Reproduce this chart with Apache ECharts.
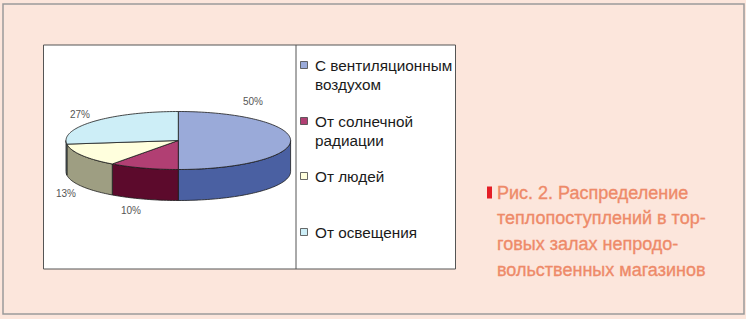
<!DOCTYPE html>
<html><head><meta charset="utf-8">
<script src="https://cdn.jsdelivr.net/npm/echarts@6/dist/echarts.min.js"></script>
<style>html,body{margin:0;padding:0;background:#fce6dc;}#c{width:746px;height:319px;}</style>
</head><body><div id="c"></div>
<script>
// ---- data ----
const categories = ['С вентиляционным воздухом', 'От солнечной радиации', 'От людей', 'От освещения'];
const values = [50, 10, 13, 27];
const valueLabels = ['50%', '10%', '13%', '27%'];
const legendLines = [['С вентиляционным', 'воздухом'], ['От солнечной', 'радиации'], ['От людей'], ['От освещения']];
const captionLines = ['Рис. 2. Распределение', 'теплопоступлений в тор-', 'говых залах непродо-', 'вольственных магазинов'];

// ---- style / layout ----
const topColors = ['#9aaad9', '#b13f73', '#ffffdd', '#cdeef7'];
const sideColors = ['#4a60a2', '#5c0a2c', '#9e9e82', '#7fa0aa'];
const pie = { cx: 178.3, cy: 140.5, rx: 112.3, ry: 29, depth: 31 };
const labelAt = [[253, 101], [131, 210], [66, 193], [80, 114]];
const legendY = [65, 121, 176, 232];

const total = values.reduce((a, b) => a + b, 0);
function startAngle(i) { let s = 0; for (let k = 0; k < i; k++) s += values[k]; return s / total * 360; }
function pt(a, dy) {
  const r = a * Math.PI / 180;
  return [pie.cx + pie.rx * Math.sin(r), pie.cy - pie.ry * Math.cos(r) + (dy || 0)];
}
function arc(a0, a1, dy) {
  const pts = []; const n = Math.max(2, Math.ceil((a1 - a0) / 1.5));
  for (let j = 0; j <= n; j++) pts.push(pt(a0 + (a1 - a0) * j / n, dy));
  return pts;
}

function renderSide(params, api) {
  const i = params.dataIndex;
  const a0 = startAngle(i), a1 = a0 + api.value(1) / total * 360;
  const s = Math.max(a0, 90), e = Math.min(a1, 270);
  if (e <= s) return null;
  const pts = arc(s, e, 0).concat(arc(s, e, pie.depth).reverse());
  return { type: 'polygon', shape: { points: pts }, style: { fill: sideColors[i], stroke: '#1a1a1a', lineWidth: 0.8 } };
}
function renderTop(params, api) {
  const i = params.dataIndex;
  const a0 = startAngle(i), a1 = a0 + api.value(1) / total * 360;
  const pts = [[pie.cx, pie.cy]].concat(arc(a0, a1, 0));
  return {
    type: 'group', children: [
      { type: 'polygon', shape: { points: pts }, style: { fill: topColors[i], stroke: '#1a1a1a', lineWidth: 0.8 } },
      { type: 'text', x: labelAt[i][0], y: labelAt[i][1], style: { text: valueLabels[i], fill: '#555', font: '10px "Liberation Sans", Arial, sans-serif', align: 'center', verticalAlign: 'middle' } }
    ]
  };
}

const seriesData = values.map((v, i) => ({ name: categories[i], value: [i, v] }));

const graphics = [
  { type: 'rect', shape: { x: 3, y: 4, width: 741, height: 310 }, style: { fill: '#fce6dc', stroke: '#9a9a9a', lineWidth: 1.5 }, z: -10 },
  { type: 'rect', shape: { x: 43.5, y: 45, width: 412, height: 224 }, style: { fill: '#fff', stroke: '#555', lineWidth: 1 }, z: -9 },
  { type: 'line', shape: { x1: 296, y1: 45, x2: 296, y2: 269 }, style: { stroke: '#555', lineWidth: 1 }, z: -8 },
  { type: 'rect', shape: { x: 487, y: 186.5, width: 5, height: 12 }, style: { fill: '#e41e26' } }
];
legendLines.forEach((lines, i) => {
  graphics.push({ type: 'rect', shape: { x: 300.5, y: legendY[i] - 3.5, width: 7, height: 7 }, style: { fill: topColors[i], stroke: '#444', lineWidth: 0.8 } });
  lines.forEach((t, j) => {
    graphics.push({ type: 'text', x: 315, y: legendY[i] + j * 19.5, style: { text: t, fill: '#1a1a1a', font: '15.3px "Liberation Sans", Arial, sans-serif', verticalAlign: 'middle' } });
  });
});
captionLines.forEach((t, j) => {
  graphics.push({ type: 'text', x: 497, y: 192.5 + j * 25.8, style: { text: t, fill: '#ee8a69', stroke: '#ee8a69', lineWidth: 0.35, font: '18px "Liberation Sans", Arial, sans-serif', verticalAlign: 'middle' } });
});

const chart = echarts.init(document.getElementById('c'), null, { renderer: 'svg' });
chart.setOption({
  animation: false,
  backgroundColor: '#fce6dc',
  graphic: { elements: graphics },
  series: [
    { type: 'custom', coordinateSystem: 'none', renderItem: renderSide, data: seriesData, z: 2, silent: true },
    { type: 'custom', coordinateSystem: 'none', renderItem: renderTop, data: seriesData, z: 3, silent: true }
  ]
});
</script></body></html>
